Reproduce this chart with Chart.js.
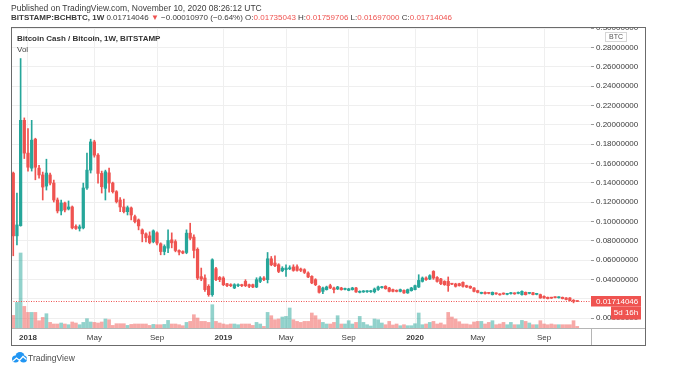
<!DOCTYPE html>
<html>
<head>
<meta charset="utf-8">
<script src="https://cdn.jsdelivr.net/npm/chart.js@4.4.0/dist/chart.umd.min.js"></script>
<style>
  html, body { margin: 0; padding: 0; background: #fff; }
  body { width: 673px; height: 372px; position: relative; overflow: hidden;
         font-family: "Liberation Sans", Arial, sans-serif; color: #2a2e39; }
  #c { position: absolute; left: 0; top: 0; }
  .t { position: absolute; white-space: nowrap; line-height: 10px; }
  .r { color: #ef5350; }
</style>
</head>
<body>
<canvas id="c" width="673" height="372"></canvas>
<div class="t" style="left:11px;top:2.5px;font-size:8.5px;color:#3a3a3a">Published on TradingView.com, November 10, 2020 08:26:12 UTC</div>
<div class="t" style="left:11px;top:12.5px;font-size:8px;color:#3a3a3a"><b>BITSTAMP:BCHBTC, 1W</b> 0.01714046 <span class="r">▼</span> −0.00010970 (−0.64%) O:<span class="r">0.01735043</span> H:<span class="r">0.01759706</span> L:<span class="r">0.01697000</span> C:<span class="r">0.01714046</span></div>
<div class="t" style="left:17px;top:33.5px;font-size:8px;font-weight:bold;color:#333">Bitcoin Cash / Bitcoin, 1W, BITSTAMP</div>
<div class="t" style="left:17px;top:45px;font-size:8px;color:#444">Vol</div>
<svg style="position:absolute;left:11px;top:352px" width="16" height="11" viewBox="0 0 32 22">
  <circle cx="9" cy="14" r="7" fill="#2196f3"/>
  <circle cx="18" cy="9" r="9" fill="#2196f3"/>
  <circle cx="25" cy="14" r="7" fill="#2196f3"/>
  <polyline points="3,19 11,12 17,17 24,9 31,15" fill="none" stroke="#fff" stroke-width="2.5"/>
</svg>
<div class="t" style="left:28px;top:353px;font-size:8.5px;color:#4a4a4a">TradingView</div>
<script>
// weekly BCH/BTC candles, first bar = week of 2017-12-04 (4 weeks before 2018-01-01)
const firstWeek = -4;

const open = [
  0.1499, 0.0850, 0.0956, 0.2045, 0.1706, 0.1550, 0.1850, 0.1550, 0.1480, 0.1365,
  0.1480, 0.1396, 0.1221, 0.1108, 0.1190, 0.1128, 0.1149, 0.0948, 0.0927, 0.0933,
  0.1345, 0.1530, 0.1822, 0.1685, 0.1496, 0.1342, 0.1502, 0.1396, 0.1307, 0.1221,
  0.1149, 0.1100, 0.1139, 0.1049, 0.1015, 0.0912, 0.0871, 0.0850, 0.0791, 0.0881,
  0.0768, 0.0688, 0.0723, 0.0809, 0.0791, 0.0699, 0.0688, 0.0678, 0.0878, 0.0837,
  0.0711, 0.0428, 0.0414, 0.0328, 0.0242, 0.0510, 0.0420, 0.0414, 0.0355, 0.0345,
  0.0311, 0.0335, 0.0345, 0.0379, 0.0345, 0.0345, 0.0321, 0.0379, 0.0414, 0.0397,
  0.0613, 0.0569, 0.0551, 0.0489, 0.0500, 0.0510, 0.0528, 0.0531, 0.0507, 0.0500,
  0.0466, 0.0431, 0.0397, 0.0328, 0.0276, 0.0294, 0.0335, 0.0311, 0.0301, 0.0311,
  0.0296, 0.0286, 0.0294, 0.0311, 0.0266, 0.0270, 0.0272, 0.0272, 0.0272, 0.0295,
  0.0314, 0.0328, 0.0311, 0.0294, 0.0286, 0.0276, 0.0286, 0.0260, 0.0283, 0.0294,
  0.0321, 0.0379, 0.0414, 0.0404, 0.0482, 0.0420, 0.0404, 0.0379, 0.0379, 0.0358,
  0.0352, 0.0355, 0.0369, 0.0335, 0.0328, 0.0311, 0.0283, 0.0255, 0.0266, 0.0262,
  0.0242, 0.0258, 0.0248, 0.0255, 0.0245, 0.0252, 0.0258, 0.0255, 0.0242, 0.0266,
  0.0255, 0.0262, 0.0245, 0.0242, 0.0225, 0.0214, 0.0212, 0.0216, 0.0210, 0.0214,
  0.0208, 0.0208, 0.0180, 0.01735043
];
const high = [
  0.1510, 0.1293, 0.2684, 0.2070, 0.1960, 0.2045, 0.1860, 0.1580, 0.1510, 0.1643,
  0.1500, 0.1427, 0.1242, 0.1221, 0.1200, 0.1211, 0.1159, 0.0963, 0.0963, 0.1396,
  0.1705, 0.1850, 0.1839, 0.1700, 0.1520, 0.1530, 0.1551, 0.1406, 0.1318, 0.1245,
  0.1231, 0.1159, 0.1149, 0.1066, 0.1025, 0.0922, 0.0881, 0.0891, 0.0912, 0.0891,
  0.0778, 0.0757, 0.0912, 0.0881, 0.0809, 0.0705, 0.0696, 0.0912, 0.0981, 0.0860,
  0.0726, 0.0517, 0.0448, 0.0345, 0.0613, 0.0525, 0.0430, 0.0428, 0.0360, 0.0355,
  0.0355, 0.0355, 0.0350, 0.0397, 0.0350, 0.0350, 0.0417, 0.0428, 0.0428, 0.0678,
  0.0637, 0.0644, 0.0562, 0.0531, 0.0551, 0.0541, 0.0551, 0.0551, 0.0517, 0.0510,
  0.0479, 0.0438, 0.0407, 0.0335, 0.0319, 0.0330, 0.0350, 0.0320, 0.0328, 0.0318,
  0.0311, 0.0308, 0.0318, 0.0318, 0.0282, 0.0285, 0.0284, 0.0286, 0.0311, 0.0330,
  0.0328, 0.0335, 0.0318, 0.0300, 0.0292, 0.0300, 0.0292, 0.0300, 0.0318, 0.0340,
  0.0448, 0.0425, 0.0425, 0.0448, 0.0490, 0.0430, 0.0410, 0.0386, 0.0425, 0.0360,
  0.0360, 0.0360, 0.0375, 0.0340, 0.0333, 0.0315, 0.0288, 0.0268, 0.0270, 0.0266,
  0.0270, 0.0262, 0.0252, 0.0260, 0.0256, 0.0266, 0.0262, 0.0270, 0.0282, 0.0270,
  0.0266, 0.0266, 0.0256, 0.0248, 0.0230, 0.0218, 0.0215, 0.0220, 0.0220, 0.0218,
  0.0212, 0.0212, 0.0191, 0.01759706
];
const low = [
  0.0644, 0.0757, 0.0950, 0.1650, 0.1520, 0.1520, 0.1430, 0.1448, 0.1221, 0.1324,
  0.1376, 0.1200, 0.1087, 0.1066, 0.1097, 0.1118, 0.0922, 0.0917, 0.0900, 0.0922,
  0.1330, 0.1500, 0.1664, 0.1396, 0.1293, 0.1221, 0.1303, 0.1293, 0.1190, 0.1100,
  0.1087, 0.1066, 0.1015, 0.0984, 0.0912, 0.0788, 0.0788, 0.0768, 0.0778, 0.0757,
  0.0654, 0.0654, 0.0675, 0.0726, 0.0685, 0.0654, 0.0665, 0.0665, 0.0809, 0.0623,
  0.0397, 0.0386, 0.0276, 0.0225, 0.0225, 0.0386, 0.0376, 0.0335, 0.0325, 0.0325,
  0.0304, 0.0325, 0.0325, 0.0325, 0.0314, 0.0314, 0.0314, 0.0366, 0.0386, 0.0363,
  0.0541, 0.0531, 0.0469, 0.0479, 0.0431, 0.0500, 0.0484, 0.0484, 0.0480, 0.0460,
  0.0417, 0.0355, 0.0335, 0.0258, 0.0252, 0.0289, 0.0304, 0.0260, 0.0294, 0.0288,
  0.0290, 0.0282, 0.0289, 0.0265, 0.0260, 0.0265, 0.0266, 0.0265, 0.0260, 0.0285,
  0.0308, 0.0298, 0.0270, 0.0270, 0.0270, 0.0270, 0.0255, 0.0255, 0.0278, 0.0290,
  0.0315, 0.0372, 0.0390, 0.0397, 0.0400, 0.0372, 0.0345, 0.0338, 0.0276, 0.0345,
  0.0320, 0.0330, 0.0320, 0.0315, 0.0305, 0.0270, 0.0260, 0.0250, 0.0248, 0.0250,
  0.0238, 0.0245, 0.0236, 0.0244, 0.0240, 0.0248, 0.0245, 0.0250, 0.0236, 0.0238,
  0.0250, 0.0238, 0.0240, 0.0204, 0.0204, 0.0197, 0.0202, 0.0207, 0.0206, 0.0197,
  0.0187, 0.0176, 0.0157, 0.01697
];
const close = [
  0.0850, 0.0963, 0.2045, 0.1706, 0.1560, 0.1840, 0.1560, 0.1480, 0.1355, 0.1500,
  0.1396, 0.1221, 0.1108, 0.1190, 0.1118, 0.1149, 0.0933, 0.0927, 0.0943, 0.1345,
  0.1530, 0.1822, 0.1685, 0.1496, 0.1358, 0.1513, 0.1396, 0.1307, 0.1204, 0.1149,
  0.1100, 0.1142, 0.1066, 0.0997, 0.0953, 0.0871, 0.0830, 0.0781, 0.0902, 0.0775,
  0.0688, 0.0740, 0.0802, 0.0778, 0.0699, 0.0682, 0.0672, 0.0878, 0.0826, 0.0699,
  0.0414, 0.0404, 0.0294, 0.0242, 0.0603, 0.0397, 0.0397, 0.0345, 0.0335, 0.0335,
  0.0345, 0.0345, 0.0335, 0.0335, 0.0328, 0.0321, 0.0397, 0.0414, 0.0397, 0.0613,
  0.0551, 0.0541, 0.0482, 0.0515, 0.0517, 0.0520, 0.0493, 0.0493, 0.0493, 0.0472,
  0.0425, 0.0363, 0.0345, 0.0266, 0.0311, 0.0321, 0.0311, 0.0294, 0.0321, 0.0294,
  0.0304, 0.0301, 0.0311, 0.0270, 0.0276, 0.0278, 0.0278, 0.0280, 0.0300, 0.0321,
  0.0320, 0.0304, 0.0276, 0.0276, 0.0276, 0.0294, 0.0260, 0.0294, 0.0311, 0.0335,
  0.0389, 0.0414, 0.0397, 0.0438, 0.0414, 0.0379, 0.0355, 0.0345, 0.0335, 0.0350,
  0.0328, 0.0335, 0.0328, 0.0321, 0.0311, 0.0276, 0.0266, 0.0262, 0.0252, 0.0255,
  0.0266, 0.0250, 0.0240, 0.0248, 0.0252, 0.0262, 0.0250, 0.0266, 0.0276, 0.0242,
  0.0262, 0.0242, 0.0252, 0.0208, 0.0208, 0.0201, 0.0206, 0.0211, 0.0216, 0.0201,
  0.0191, 0.0180, 0.01735, 0.01714046
];
// volume, thousand BCH
const volume = [
  12.6, 25.6, 75, 21.6, 15.6, 15.6, 15.6, 7.3, 10.6, 14.3,
  5.6, 4, 4, 5, 4, 3.3, 6, 5, 3.3, 5.6,
  9.3, 6, 5.6, 5, 6, 9, 8.3, 2.6, 4.3, 4.3,
  4.3, 2.6, 3.6, 4, 4, 4, 4, 2.6, 3.6, 3.3,
  3.3, 3.6, 7.6, 4, 4, 3.3, 2.3, 5.6, 6.6, 13.3,
  10, 6.6, 6.6, 5.6, 23.3, 6.6, 5, 4, 3.3, 4,
  4, 3.3, 4, 4, 4, 2.6, 5.6, 4, 1.6, 15.6,
  12.3, 8.3, 9, 11, 11.6, 20, 8.3, 6.6, 5.6, 6.6,
  6.6, 15, 12.3, 8.3, 5.6, 4, 4, 5.6, 12.3, 4,
  4, 7.3, 4, 5.6, 11.6, 5.6, 3.3, 2, 9, 8.3,
  5, 3.3, 6.6, 3, 4, 2.3, 3.3, 2.3, 2.3, 4.3,
  15, 3.3, 4, 5.6, 6.6, 4, 5, 3.3, 15.6, 11,
  9, 6.3, 4, 4, 3.3, 6, 6.6, 6.6, 4, 5.6,
  7.3, 3.3, 4, 5.6, 3.3, 5.6, 3.3, 3.3, 7.6, 6.6,
  5, 3.3, 3.3, 7.3, 4, 3.3, 4, 3.3, 3.3, 3.3,
  3.3, 3.3, 7.3, 1.6
];

// time axis: week index (0 = 2018-01-01) and label
const timeTicks = [0, 18, 35, 53, 70, 87, 105, 122, 140];
const timeLabels = ['2018', 'May', 'Sep', '2019', 'May', 'Sep', '2020', 'May', 'Sep'];
const priceTicks = [0, 0.02, 0.04, 0.06, 0.08, 0.10, 0.12, 0.14, 0.16, 0.18, 0.20, 0.22, 0.24, 0.26, 0.28, 0.30];
const lastPrice = 0.01714046;
const timeLeft = '5d 16h';

const TEAL = '#26a69a';
const RED = '#ef5350';
const FONT = '"Liberation Sans", Arial, sans-serif';

const xs = open.map((_, i) => i + firstWeek);
const up = open.map((o, i) => close[i] >= o);
const candleColors = up.map(u => u ? TEAL : RED);
const volColors = up.map(u => u ? 'rgba(38,166,154,0.5)' : 'rgba(239,83,80,0.5)');

const framePlugin = {
  id: 'frame',
  afterDraw(chart) {
    const { ctx, chartArea: a, scales } = chart;
    const y = scales.y;
    ctx.save();
    // pane clips the top price label
    ctx.fillStyle = '#fff';
    ctx.fillRect(a.right + 1, 0, 80, 27.5);

    // last price dotted line
    const py = Math.round(y.getPixelForValue(lastPrice)) + 0.5;
    ctx.strokeStyle = RED;
    ctx.lineWidth = 1;
    ctx.setLineDash([1, 1.5]);
    ctx.beginPath();
    ctx.moveTo(a.left, py);
    ctx.lineTo(a.right, py);
    ctx.stroke();
    ctx.setLineDash([]);

    // price label boxes
    ctx.fillStyle = RED;
    ctx.fillRect(a.right, py - 5.5, 50, 10.5);
    ctx.fillRect(a.right + 20, py + 5, 30, 13);
    ctx.fillStyle = '#fff';
    ctx.font = '8px ' + FONT;
    ctx.textBaseline = 'middle';
    ctx.textAlign = 'left';
    ctx.fillText(lastPrice.toFixed(8), a.right + 5, py);
    ctx.textAlign = 'center';
    ctx.fillText(timeLeft, a.right + 35, py + 11.5);

    // currency box
    ctx.strokeStyle = '#d6d6d6';
    ctx.strokeRect(605.5, 32.5, 21, 9);
    ctx.fillStyle = '#555';
    ctx.font = '7px ' + FONT;
    ctx.fillText('BTC', 616, 37.5);

    // frame
    ctx.strokeStyle = '#b5b5b5';
    ctx.beginPath();
    ctx.moveTo(11, a.bottom + 0.5);
    ctx.lineTo(646, a.bottom + 0.5);
    ctx.moveTo(a.right + 0.5, a.bottom);
    ctx.lineTo(a.right + 0.5, 346);
    ctx.stroke();
    ctx.strokeStyle = '#6b6b6b';
    ctx.strokeRect(11.5, 27.5, 634, 318);
    ctx.restore();
  }
};

new Chart(document.getElementById('c'), {
  type: 'bar',
  data: {
    datasets: [
      {
        label: 'body',
        data: xs.map((x, i) => ({ x: x, y: [open[i], close[i]] })),
        backgroundColor: candleColors,
        barThickness: 2.6,
        minBarLength: 1,
        grouped: false,
        order: 0,
        yAxisID: 'y'
      },
      {
        label: 'wick',
        data: xs.map((x, i) => ({ x: x, y: [low[i], high[i]] })),
        backgroundColor: candleColors,
        barThickness: 1,
        grouped: false,
        order: 1,
        yAxisID: 'y'
      },
      {
        label: 'Vol',
        data: xs.map((x, i) => ({ x: x, y: volume[i] })),
        backgroundColor: volColors,
        barThickness: 3,
        grouped: false,
        order: 2,
        yAxisID: 'yv'
      }
    ]
  },
  options: {
    responsive: false,
    animation: false,
    layout: { padding: { left: 11, top: 28, right: 27, bottom: 26 } },
    plugins: { legend: { display: false }, tooltip: { enabled: false } },
    scales: {
      x: {
        type: 'linear',
        offset: false,
        min: -4.61,
        max: 152.74,
        afterBuildTicks: s => { s.ticks = timeTicks.map(v => ({ value: v })); },
        afterFit: s => { s.height = 18; },
        border: { display: false },
        grid: { color: '#efefef', drawTicks: false, offset: false },
        ticks: {
          autoSkip: false,
          maxRotation: 0,
          padding: 5,
          color: '#3a3a3a',
          font: c => ({ family: FONT, size: 8, weight: /^\d/.test(timeLabels[c.index] || '') ? 'bold' : 'normal' }),
          callback: (v, i) => timeLabels[i]
        }
      },
      y: {
        position: 'right',
        min: -0.0103,
        max: 0.30,
        afterBuildTicks: s => { s.ticks = priceTicks.map(v => ({ value: v })); },
        afterFit: s => { s.width = 55; },
        border: { display: false },
        grid: { color: '#efefef', tickColor: '#9a9a9a', tickLength: 3 },
        ticks: {
          padding: 2,
          color: '#3a3a3a',
          font: { family: FONT, size: 8 },
          callback: v => v.toFixed(8)
        }
      },
      yv: {
        display: false,
        min: 0,
        max: 300
      }
    }
  },
  plugins: [framePlugin]
});
</script>
</body>
</html>
